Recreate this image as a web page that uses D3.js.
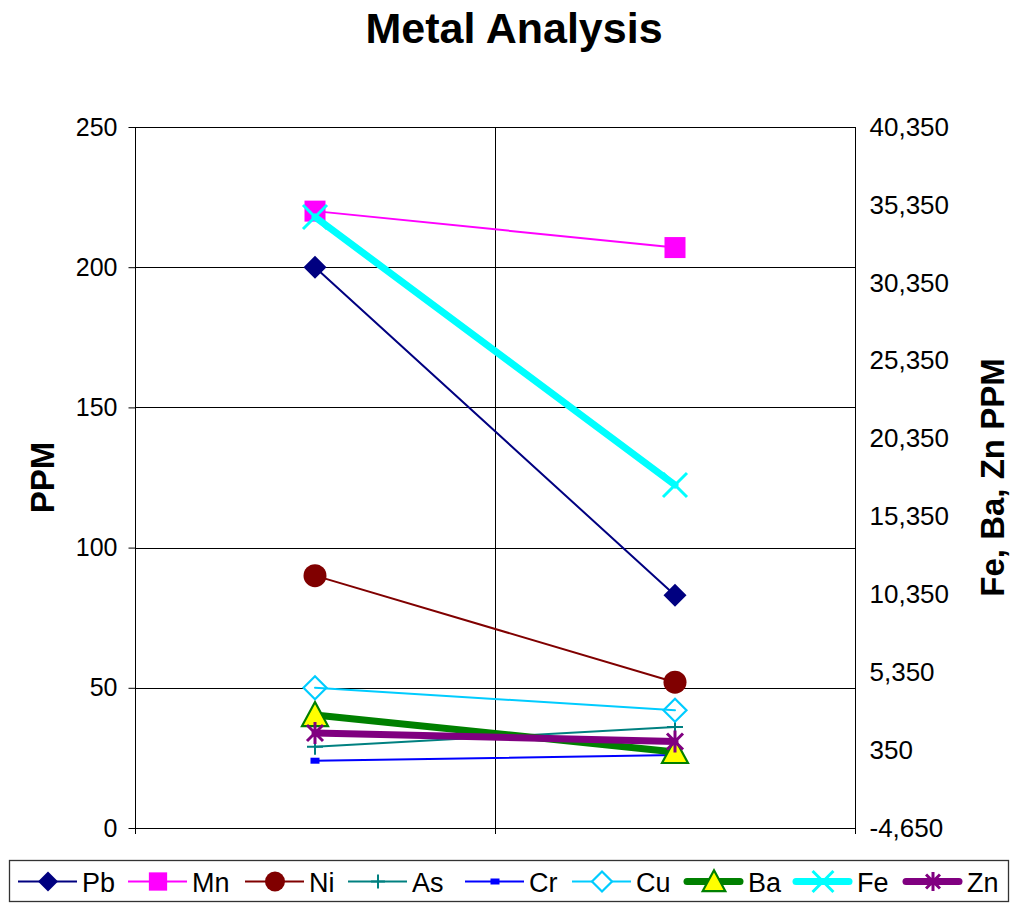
<!DOCTYPE html>
<html>
<head>
<meta charset="utf-8">
<script src="https://cdn.jsdelivr.net/npm/d3@7"></script>
<style>
  html, body { margin: 0; padding: 0; background: #fff; }
  svg { display: block; font-family: "Liberation Sans", Arial, sans-serif; }
</style>
</head>
<body>
<svg id="chart" width="1011" height="904"></svg>
<script>
// ---------- data ----------
const categories = ["Sample 1", "Sample 2"];
const seriesNames = ["Pb", "Mn", "Ni", "As", "Cr", "Cu", "Ba", "Fe", "Zn"];
const pbValues = [200, 83];
const mnValues = [220, 207];
const niValues = [90, 52];
const asValues = [29, 36];
const crValues = [24, 26];
const cuValues = [50, 42];
const baValues = [2600, 230];
const feValues = [34570, 17370];
const znValues = [1450, 900];
const leftTicks = [0, 50, 100, 150, 200, 250];
const rightTicks = [-4650, 350, 5350, 10350, 15350, 20350, 25350, 30350, 35350, 40350];

// ---------- layout ----------
const plot = { left: 135, right: 855, top: 127, bottom: 828 };
const svg = d3.select("#chart");

const x = d3.scaleBand().domain(categories).range([plot.left, plot.right]).padding(0);
const yL = d3.scaleLinear().domain([0, 250]).range([plot.bottom, plot.top]);
const yR = d3.scaleLinear().domain([-4650, 40350]).range([plot.bottom, plot.top]);
const cx = c => x(c) + x.bandwidth() / 2;

// markers
const markerFns = {
  diamond: (g, s, col) => g.append("path").attr("d", `M0,${-11.5*s}L${11.5*s},0L0,${11.5*s}L${-11.5*s},0Z`).attr("fill", col),
  square: (g, s, col) => g.append("rect").attr("x", -10.5*s).attr("y", -10.5*s).attr("width", 21*s).attr("height", 21*s).attr("fill", col),
  circle: (g, s, col) => g.append("circle").attr("r", 11.5*s).attr("fill", col),
  plus: (g, s, col) => g.append("path").attr("d", `M${-8*s},0H${8*s}M0,${-8*s}V${8*s}`).attr("stroke", col).attr("stroke-width", 2).attr("fill", "none"),
  dash: (g, s, col) => g.append("rect").attr("x", -4.5).attr("y", -3).attr("width", 9).attr("height", 6).attr("fill", col),
  odiamond: (g, s, col) => g.append("path").attr("d", `M0,${-11.5*s}L${11.5*s},0L0,${11.5*s}L${-11.5*s},0Z`).attr("fill", "#fff").attr("stroke", col).attr("stroke-width", 2.2),
  triangle: (g, s, col) => g.append("path").attr("d", `M0,${-13*s}L${13*s},${11*s}L${-13*s},${11*s}Z`).attr("fill", "#ffff00").attr("stroke", col).attr("stroke-width", 2.2),
  xmark: (g, s, col) => g.append("path").attr("d", `M${-12*s},${-12*s}L${12*s},${12*s}M${12*s},${-12*s}L${-12*s},${12*s}`).attr("stroke", col).attr("stroke-width", 3).attr("fill", "none"),
  asterisk: (g, s, col) => g.append("path").attr("d", `M${-8*s},${-8*s}L${8*s},${8*s}M${8*s},${-8*s}L${-8*s},${8*s}M0,${-11*s}V${11*s}`).attr("stroke", col).attr("stroke-width", 3).attr("fill", "none")
};

const series = [
  { name: seriesNames[0], values: pbValues, axis: "L", color: "#000080", width: 2, marker: "diamond" },
  { name: seriesNames[1], values: mnValues, axis: "L", color: "#ff00ff", width: 2, marker: "square" },
  { name: seriesNames[2], values: niValues, axis: "L", color: "#800000", width: 2, marker: "circle" },
  { name: seriesNames[3], values: asValues, axis: "L", color: "#008080", width: 2, marker: "plus" },
  { name: seriesNames[4], values: crValues, axis: "L", color: "#0000ff", width: 2, marker: "dash" },
  { name: seriesNames[5], values: cuValues, axis: "L", color: "#00ccff", width: 2, marker: "odiamond", lineOver: true },
  { name: seriesNames[6], values: baValues, axis: "R", color: "#008000", width: 7, marker: "triangle" },
  { name: seriesNames[7], values: feValues, axis: "R", color: "#00ffff", width: 7, marker: "xmark" },
  { name: seriesNames[8], values: znValues, axis: "R", color: "#800080", width: 7, marker: "asterisk" }
];

// ---------- title ----------
svg.append("text").attr("x", 514).attr("y", 43).attr("text-anchor", "middle")
  .attr("font-size", 43).attr("font-weight", "bold").text("Metal Analysis");

// ---------- grid ----------
const grid = svg.append("g");
grid.selectAll("line.h").data(leftTicks).join("line")
  .attr("x1", plot.left).attr("x2", plot.right)
  .attr("y1", d => Math.round(yL(d)) + 0.5).attr("y2", d => Math.round(yL(d)) + 0.5)
  .attr("stroke", "#000").attr("stroke-width", 1);
grid.append("line").attr("x1", x(categories[1]) + 0.5).attr("x2", x(categories[1]) + 0.5)
  .attr("y1", plot.top).attr("y2", plot.bottom).attr("stroke", "#000");

// frame
svg.append("rect").attr("x", plot.left + 0.5).attr("y", plot.top + 0.5)
  .attr("width", plot.right - plot.left).attr("height", plot.bottom - plot.top)
  .attr("fill", "none").attr("stroke", "#000").attr("stroke-width", 1);

// ---------- axes ----------
const axL = svg.append("g").attr("transform", `translate(${plot.left + 0.5},0)`)
  .call(d3.axisLeft(yL).tickValues(leftTicks).tickSize(7).tickPadding(11).tickFormat(d3.format("d")));
axL.select(".domain").remove();
axL.selectAll("text").attr("font-size", 25).attr("font-family", "Liberation Sans, Arial, sans-serif").attr("fill", "#000");
axL.selectAll("line").attr("stroke", "#000");

const fmtR = v => d3.format(",")(v).replace("\u2212", "-");
const axR = svg.append("g").attr("transform", `translate(${plot.right + 0.5},0)`)
  .call(d3.axisRight(yR).tickValues(rightTicks).tickSize(0).tickPadding(14).tickFormat(fmtR));
axR.select(".domain").remove();
axR.selectAll("text").attr("font-size", 26).attr("font-family", "Liberation Sans, Arial, sans-serif").attr("fill", "#000");

// category axis tick marks at band boundaries (no labels)
const bounds = [plot.left, x(categories[1]), plot.right];
svg.selectAll("line.xt").data(bounds).join("line")
  .attr("x1", d => d + 0.5).attr("x2", d => d + 0.5)
  .attr("y1", plot.bottom).attr("y2", plot.bottom + 6).attr("stroke", "#000");

// axis titles
svg.append("text").attr("transform", `translate(42,${(plot.top + plot.bottom) / 2}) rotate(-90)`)
  .attr("text-anchor", "middle").attr("dy", "0.35em").attr("font-size", 33).attr("font-weight", "bold").text("PPM");
svg.append("text").attr("transform", `translate(992,${(plot.top + plot.bottom) / 2}) rotate(-90)`)
  .attr("text-anchor", "middle").attr("dy", "0.35em").attr("font-size", 33).attr("font-weight", "bold").text("Fe, Ba, Zn PPM");

// ---------- series ----------
series.forEach(s => {
  const y = s.axis === "L" ? yL : yR;
  const pts = s.values.map((v, i) => [cx(categories[i]), y(v)]);
  const g = svg.append("g");
  const drawLine = () => g.append("path").attr("d", d3.line()(pts)).attr("fill", "none")
    .attr("stroke", s.color).attr("stroke-width", s.width).attr("stroke-linecap", "round");
  if (!s.lineOver) drawLine();
  pts.forEach(p => {
    const mg = g.append("g").attr("transform", `translate(${p[0]},${p[1]})`);
    markerFns[s.marker](mg, 1, s.color);
  });
  if (s.lineOver) drawLine();
});

// ---------- legend ----------
const legendBox = { x: 9.5, y: 860.5, w: 999, h: 41 };
const legendStarts = [18, 128, 245, 348, 465, 572, 684, 793, 903];
const legY = 881.5;
svg.append("rect").attr("x", legendBox.x).attr("y", legendBox.y).attr("width", legendBox.w).attr("height", legendBox.h)
  .attr("fill", "#fff").attr("stroke", "#333").attr("stroke-width", 1.3);
series.forEach((s, i) => {
  const x0 = legendStarts[i];
  const g = svg.append("g");
  const thick = s.width > 3;
  g.append("line").attr("x1", x0 + (thick ? 3 : 0)).attr("x2", x0 + 59 - (thick ? 3 : 0)).attr("y1", legY).attr("y2", legY)
    .attr("stroke", s.color).attr("stroke-width", s.width).attr("stroke-linecap", thick ? "round" : "butt");
  const mg = g.append("g").attr("transform", `translate(${x0 + 30},${legY})`);
  markerFns[s.marker](mg, 0.87, s.color);
  g.append("text").attr("x", x0 + 64).attr("y", legY + 10).attr("font-size", 27).text(s.name);
});
</script>
</body>
</html>
